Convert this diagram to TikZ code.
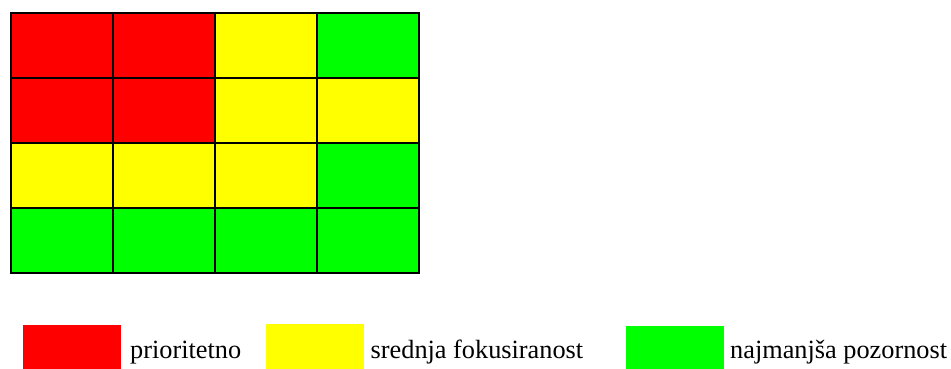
\documentclass[tikz,border=0pt]{standalone}
\usepackage{fontspec}
\setmainfont{Liberation Serif}
\definecolor{cred}{RGB}{255,0,0}
\definecolor{cyel}{RGB}{255,255,0}
\definecolor{cgrn}{RGB}{0,255,0}
\begin{document}
\begin{tikzpicture}[x=1pt,y=-1pt,
  cell/.style={draw=black,line width=2pt,minimum width=102pt,minimum height=65pt,inner sep=0pt,anchor=north west},
  legbox/.style={minimum width=98pt,minimum height=45pt,inner sep=0pt,anchor=north west},
  legtext/.style={anchor=base west,inner sep=0pt,font=\fontsize{26.3}{30}\selectfont}]
\useasboundingbox[fill=white] (0,0) rectangle (951,369);
\def\xs{{10,111.5,214,316}}
\def\ys{{12,77,142,207}}
\foreach \r/\c/\col in {0/0/cred,0/1/cred,0/2/cyel,0/3/cgrn,
                         1/0/cred,1/1/cred,1/2/cyel,1/3/cyel,
                         2/0/cyel,2/1/cyel,2/2/cyel,2/3/cgrn,
                         3/0/cgrn,3/1/cgrn,3/2/cgrn,3/3/cgrn}{
  \pgfmathsetmacro{\xx}{10+\c*102}
  \pgfmathsetmacro{\yy}{12+\r*64.9}
  \node[cell,fill=\col] (c\r\c) at (\xx,\yy) {};
}
\node[legbox,fill=cred] (lr) at (22.3,325) {};
\node[legbox,fill=cyel] (ly) at (266,324) {};
\node[legbox,fill=cgrn] (lg) at (626,325.7) {};
\node[legtext] (tr) at (130,358) {prioritetno};
\node[legtext] (ty) at (370.5,358) {srednja fokusiranost};
\node[legtext] (tg) at (730,358) {najmanjša pozornost};
\end{tikzpicture}
\end{document}
